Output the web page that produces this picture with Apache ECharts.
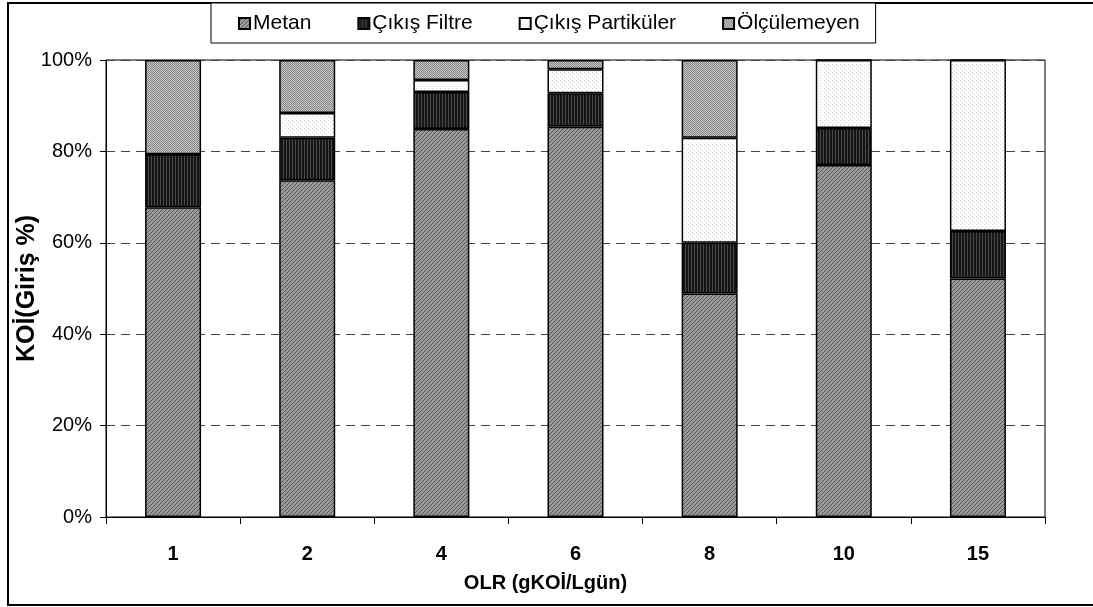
<!DOCTYPE html>
<html>
<head>
<meta charset="utf-8">
<script src="https://cdn.jsdelivr.net/npm/echarts@6/dist/echarts.min.js"></script>
<style>
html,body{margin:0;padding:0;background:#fff;}
#c{width:1093px;height:607px;}
</style>
</head>
<body>
<div id="c"></div>
<script>
// ---- data ----
const categories = ['1', '2', '4', '6', '8', '10', '15'];
const seriesNames = ['Metan', 'Çıkış Filtre', 'Çıkış Partiküler', 'Ölçülemeyen'];
const metan       = [67.8, 73.7, 84.9, 85.4, 48.9, 77.0, 52.2];
const cikisFiltre = [11.6,  9.3,  8.1,  7.3, 11.1,  8.1, 10.4];
const cikisPartik = [ 0.0,  5.4,  2.6,  5.3, 23.0, 14.9, 37.4];
const olculemeyen = [20.6, 11.6,  4.4,  2.0, 17.0,  0.0,  0.0];
const yTicks = [0, 20, 40, 60, 80, 100];

// ---- patterns ----
function pattern(w, h, bg, fg, pts) {
  const c = document.createElement('canvas');
  c.width = w; c.height = h;
  const g = c.getContext('2d');
  g.fillStyle = bg; g.fillRect(0, 0, w, h);
  g.fillStyle = fg;
  pts.forEach(p => g.fillRect(p[0], p[1], 1, 1));
  return { image: c, repeat: 'repeat' };
}
const patMetan = pattern(4, 4, '#9a9a9a', '#585858', [[3,0],[2,1],[1,2],[0,3]]);
const patFiltre = pattern(3, 2, '#151515', '#4a4a4a', [[1,0],[1,1]]);
const patPartik = pattern(4, 4, '#ffffff', '#d4d4d4', [[0,0],[2,2]]);
const patOlc = pattern(2, 2, '#c6c6c6', '#878787', [[0,0],[1,1]]);
const pats = [patMetan, patFiltre, patPartik, patOlc];
const datas = [metan, cikisFiltre, cikisPartik, olculemeyen];

const FONT = '"Liberation Sans", Arial, sans-serif';

const chart = echarts.init(document.getElementById('c'), null, {renderer: 'canvas'});
chart.setOption({
  animation: false,
  backgroundColor: '#fff',
  textStyle: {fontFamily: FONT, color: '#000'},
  graphic: [{
    type: 'rect', z: -10, silent: true,
    shape: {x: 8, y: 3, width: 1100, height: 602},
    style: {fill: 'none', stroke: '#000', lineWidth: 2}
  }],
  legend: {
    data: seriesNames,
    left: 211, top: 3,
    padding: [10, 16, 9, 27],
    itemGap: 46,
    itemWidth: 11, itemHeight: 11,
    icon: 'rect',
    borderColor: '#000', borderWidth: 1,
    backgroundColor: '#fff',
    textStyle: {fontFamily: FONT, fontSize: 21, color: '#000', padding: [0, 0, 0, -2]}
  },
  grid: {
    left: 106, right: 48, top: 60, bottom: 90,
    show: true, borderColor: '#000', borderWidth: 1, backgroundColor: 'transparent'
  },
  xAxis: {
    type: 'category',
    data: categories,
    name: 'OLR (gKOİ/Lgün)',
    nameLocation: 'middle',
    nameGap: 56,
    nameMoveOverlap: false,
    nameTextStyle: {fontFamily: FONT, fontSize: 20, fontWeight: 'bold', color: '#000', padding: [0, 60, 0, 0]},
    axisLine: {lineStyle: {color: '#000', width: 1}},
    axisTick: {show: true, alignWithLabel: false, length: 7, lineStyle: {color: '#000'}},
    axisLabel: {fontFamily: FONT, fontSize: 20, fontWeight: 'bold', color: '#000', margin: 27},
    splitLine: {show: false}
  },
  yAxis: {
    type: 'value',
    min: 0, max: 100, interval: 20,
    name: 'KOİ(Giriş %)',
    nameLocation: 'middle',
    nameGap: 66,
    nameRotate: 90,
    nameMoveOverlap: false,
    nameTextStyle: {fontFamily: FONT, fontSize: 25, fontWeight: 'bold', color: '#000'},
    axisLine: {show: true, lineStyle: {color: '#000', width: 1}},
    axisTick: {show: true, length: 6, lineStyle: {color: '#000'}},
    axisLabel: {
      fontFamily: FONT, fontSize: 20, color: '#000', margin: 14,
      formatter: v => yTicks.includes(v) ? v + '%' : ''
    },
    splitLine: {show: true, lineStyle: {color: '#444', width: 1, type: [9, 6]}}
  },
  series: seriesNames.map((n, i) => ({
    name: n,
    type: 'bar',
    stack: 'total',
    barWidth: 56,
    data: datas[i],
    itemStyle: {color: pats[i], borderColor: '#000', borderWidth: 1.5},
    emphasis: {disabled: true}
  }))
});
</script>
</body>
</html>
